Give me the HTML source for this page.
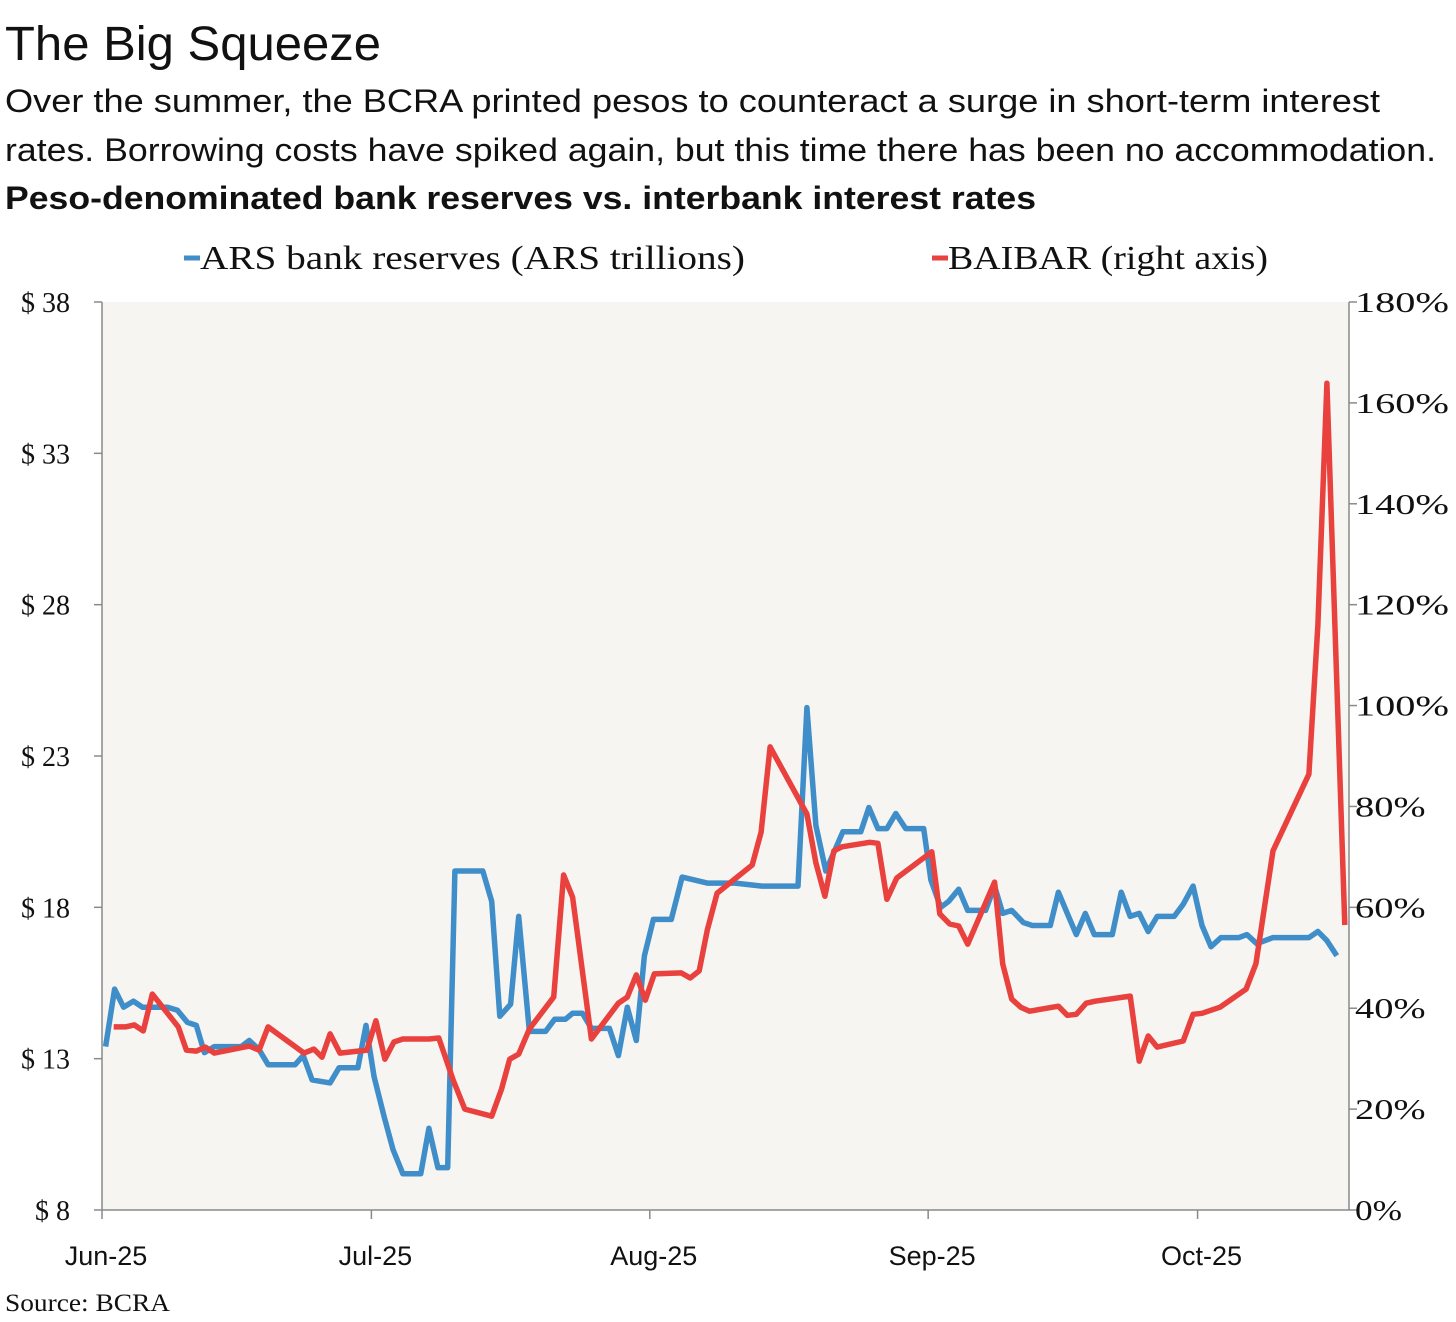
<!DOCTYPE html>
<html><head><meta charset="utf-8"><style>
html,body{margin:0;padding:0;background:#fff;}
svg{display:block;}
</style></head><body>
<svg id="chart" width="1456" height="1322" viewBox="0 0 1456 1322" xmlns="http://www.w3.org/2000/svg">
<text x="5" y="60" font-family="Liberation Sans, sans-serif" font-size="48" fill="#111" textLength="376" lengthAdjust="spacingAndGlyphs">The Big Squeeze</text>
<text x="5" y="112" font-family="Liberation Sans, sans-serif" font-size="32" fill="#111" textLength="1375" lengthAdjust="spacingAndGlyphs">Over the summer, the BCRA printed pesos to counteract a surge in short-term interest</text>
<text x="5" y="161" font-family="Liberation Sans, sans-serif" font-size="32" fill="#111" textLength="1431" lengthAdjust="spacingAndGlyphs">rates. Borrowing costs have spiked again, but this time there has been no accommodation.</text>
<text x="5" y="209" font-family="Liberation Sans, sans-serif" font-size="32" font-weight="bold" fill="#111" textLength="1031" lengthAdjust="spacingAndGlyphs">Peso-denominated bank reserves vs. interbank interest rates</text>
<g>
<line x1="184" y1="258" x2="200" y2="258" stroke="#3f8ec9" stroke-width="5"/>
<text x="200" y="269" font-family="Liberation Serif, serif" font-size="34" fill="#111" textLength="545" lengthAdjust="spacingAndGlyphs">ARS bank reserves (ARS trillions)</text>
<line x1="932" y1="258" x2="948" y2="258" stroke="#e8413e" stroke-width="5"/>
<text x="948" y="269" font-family="Liberation Serif, serif" font-size="34" fill="#111" textLength="320" lengthAdjust="spacingAndGlyphs">BAIBAR (right axis)</text>
</g>
<rect x="102" y="302" width="1247" height="908" fill="#f7f5f1"/>
<g id="axes"></g>
<g id="series"></g>
<text x="5" y="1311" font-family="Liberation Serif, serif" font-size="25" fill="#111" textLength="165" lengthAdjust="spacingAndGlyphs">Source: BCRA</text>
</svg>
<script>
// days since 2025-06-01
const reserveDays = [0.4,1.4,2.4,3.5,4.5,7.3,8.4,9.5,10.5,11.4,12.5,15.5,16.4,17.5,18.5,21.5,22.4,23.4,25.4,26.4,28.5,29.4,30.3,31.4,32.4,33.5,35.5,36.4,37.4,38.5,39.3,42.4,43.4,44.3,45.5,46.4,47.6,49.4,50.4,51.6,52.4,53.5,54.5,56.5,57.5,58.5,59.5,60.4,61.4,63.4,64.6,67.4,68.6,70.5,73.5,77.5,78.5,79.5,80.6,82.5,84.5,85.4,86.4,87.4,88.4,89.5,91.5,92.3,93.4,94.3,95.4,96.4,98.4,99.4,100.3,101.3,102.6,103.6,105.6,106.5,107.5,108.5,109.5,110.5,112.5,113.5,114.5,115.5,116.5,117.5,119.4,120.4,121.5,122.5,123.5,124.6,126.6,127.5,128.6,130.4,133.3,134.4,135.4,136.4,137.5];
const reserveValues = [13.4,15.3,14.7,14.9,14.7,14.7,14.6,14.2,14.1,13.2,13.4,13.4,13.6,13.3,12.8,12.8,13.1,12.3,12.2,12.7,12.7,14.1,12.4,11.1,10.0,9.2,9.2,10.7,9.4,9.4,19.2,19.2,18.2,14.4,14.8,17.7,13.9,13.9,14.3,14.3,14.5,14.5,14.0,14.0,13.1,14.7,13.6,16.4,17.6,17.6,19.0,18.8,18.8,18.8,18.7,18.7,24.6,20.7,19.2,20.5,20.5,21.3,20.6,20.6,21.1,20.6,20.6,18.9,18.0,18.2,18.6,17.9,17.9,18.7,17.8,17.9,17.5,17.4,17.4,18.5,17.8,17.1,17.8,17.1,17.1,18.5,17.7,17.8,17.2,17.7,17.7,18.1,18.7,17.4,16.7,17.0,17.0,17.1,16.8,17.0,17.0,17.0,17.2,16.9,16.4];
const baibarDays = [1.3,2.6,3.6,4.6,5.6,8.5,9.4,10.5,11.5,12.5,16.4,17.5,18.5,22.5,23.6,24.5,25.4,26.5,29.5,30.5,31.5,32.5,33.5,36.4,37.5,39.1,40.4,43.4,44.5,45.4,46.4,47.6,50.3,51.4,52.4,54.5,57.5,58.5,59.5,60.5,61.5,64.5,65.5,66.5,67.4,68.5,72.4,73.4,74.4,78.5,79.5,80.5,81.5,82.4,85.5,86.4,87.4,88.5,92.4,93.3,94.4,95.4,96.4,99.4,100.3,101.3,102.3,103.3,106.5,107.5,108.5,109.6,110.6,114.5,115.5,116.5,117.5,120.4,121.5,122.5,124.5,127.4,128.5,130.4,134.4,135.4,136.4,138.4];
const baibarValues = [36.3,36.3,36.7,35.5,42.8,36.3,31.7,31.5,32.3,31.1,32.5,31.7,36.3,31.1,31.9,30.3,34.9,31.1,31.7,37.5,29.9,33.3,33.9,33.9,34.1,25.8,20.0,18.6,24.0,29.9,30.9,35.9,42.2,66.4,62.0,33.9,41.0,42.2,46.6,41.6,46.8,47.0,46.0,47.4,55.5,62.8,68.4,74.9,91.8,78.5,68.8,62.2,71.2,72.0,72.9,72.7,61.6,65.8,71.0,58.7,56.7,56.3,52.7,65.0,48.8,41.8,40.2,39.4,40.4,38.6,38.8,41.0,41.4,42.4,29.5,34.5,32.3,33.5,38.8,39.0,40.2,43.8,48.8,71.2,86.4,116.0,163.9,56.5];
const leftTicks = [8,13,18,23,28,33,38];
const rightTicks = [0,20,40,60,80,100,120,140,160,180];
const monthDays = [0,30,61,92,122];
const monthLabels = ["Jun-25","Jul-25","Aug-25","Sep-25","Oct-25"];

const NS="http://www.w3.org/2000/svg";
const X0=102,X1=1349,Y0=1210,Y1=302;
const xScale=d=>X0+d*8.98;
const yLeft=v=>Y0-(v-8)/30*(Y0-Y1);
const yRight=v=>Y0-v/180*(Y0-Y1);
function mk(tag,attrs,parent){const e=document.createElementNS(NS,tag);for(const k in attrs)e.setAttribute(k,attrs[k]);parent.appendChild(e);return e;}
const axes=document.getElementById('axes'), series=document.getElementById('series');
const axisColor="#8a8a8a";
let l=mk('line',{x1:X0,y1:Y1,x2:X0,y2:Y0,stroke:axisColor,'stroke-width':1.5},axes);


l=mk('line',{x1:X1,y1:Y1,x2:X1,y2:Y0,stroke:axisColor,'stroke-width':1.5},axes);


l=mk('line',{x1:X0,y1:Y0,x2:X1,y2:Y0,stroke:axisColor,'stroke-width':1.5},axes);


leftTicks.forEach(v=>{const y=yLeft(v);
 const t=mk('line',{x1:X0-8,y1:y,x2:X0,y2:y,stroke:axisColor,'stroke-width':1.5},axes);
 
 
 const tx=mk('text',{x:70,y:y+10,'text-anchor':'end','font-family':'Liberation Serif, serif','font-size':28,fill:'#111'},axes);
 tx.textContent='$ '+v;
 
 
});
rightTicks.forEach(v=>{const y=yRight(v);
 const t=mk('line',{x1:X1,y1:y,x2:X1+8,y2:y,stroke:axisColor,'stroke-width':1.5},axes);
 
 
 const s=v+'%';
 const tx=mk('text',{x:1355,y:y+10,'font-family':'Liberation Serif, serif','font-size':28,fill:'#111',textLength:(s.length*23.5),lengthAdjust:'spacingAndGlyphs'},axes);
 tx.textContent=s;
 
 
});
monthDays.forEach((d,i)=>{const x=xScale(d);
 const t=mk('line',{x1:x,y1:Y0,x2:x,y2:Y0+9,stroke:axisColor,'stroke-width':1.5},axes);
 
 
 const tx=mk('text',{x:x+4,y:1265,'text-anchor':'middle','font-family':'Liberation Sans, sans-serif','font-size':27,fill:'#111'},axes);
 tx.textContent=monthLabels[i];
 
 
});
const bp=reserveDays.map((d,i)=>xScale(d).toFixed(1)+','+yLeft(reserveValues[i]).toFixed(1)).join(' ');
const b=mk('polyline',{points:bp,fill:'none',stroke:'#3f8ec9','stroke-width':5.5,'stroke-linejoin':'round'},series);


const rp=baibarDays.map((d,i)=>xScale(d).toFixed(1)+','+yRight(baibarValues[i]).toFixed(1)).join(' ');
const r=mk('polyline',{points:rp,fill:'none',stroke:'#e8413e','stroke-width':5.5,'stroke-linejoin':'round'},series);


</script>
</body></html>
